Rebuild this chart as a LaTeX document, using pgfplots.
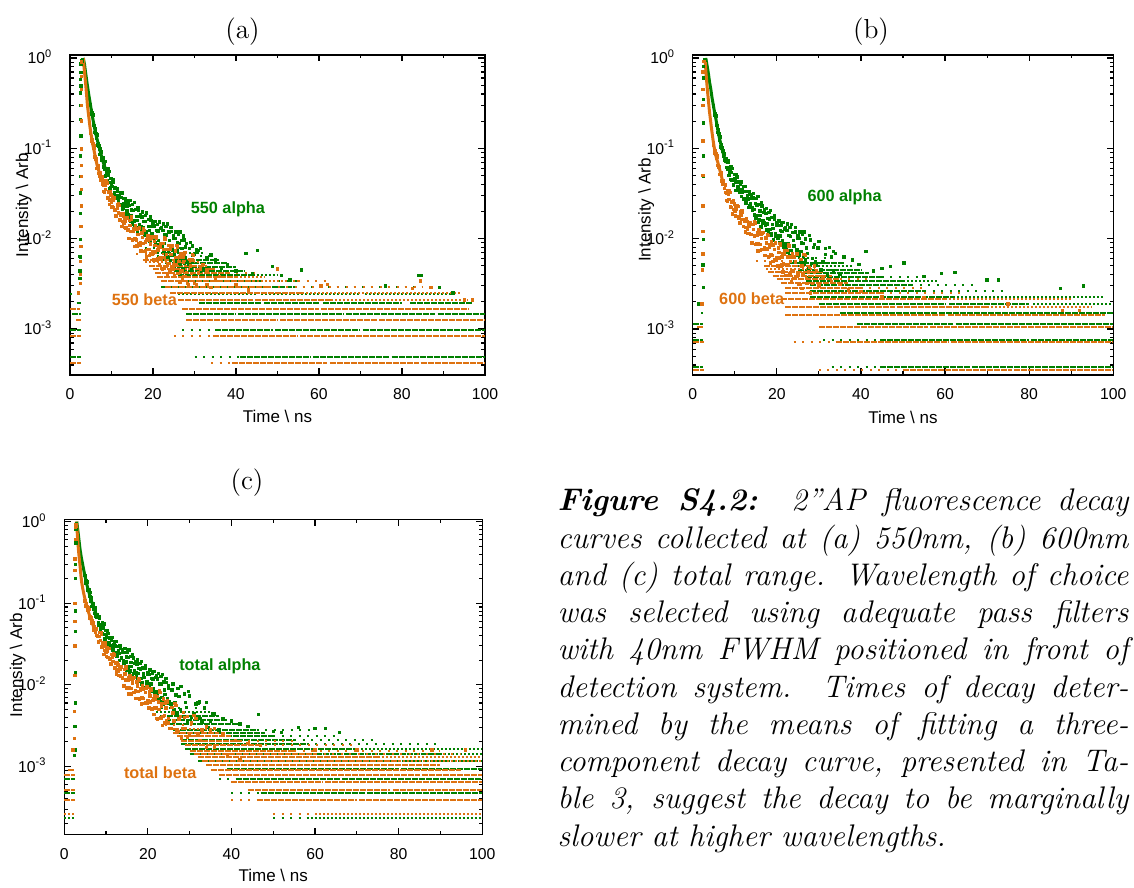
\documentclass[border=0pt]{standalone}
\usepackage{fontspec}
\usepackage{pgfplots}
\pgfplotsset{compat=1.18}
\newfontfamily\arial{Liberation Sans}
\definecolor{cg}{RGB}{0,128,0}
\definecolor{co}{RGB}{222,114,16}
\newcommand\tickfont{\arial\fontsize{6.3}{7}\selectfont}
\newcommand\labfont{\arial\fontsize{6.8}{8}\selectfont}
\newcommand\inlab{\arial\bfseries\fontsize{6.5}{7.5}\selectfont}
\pgfplotsset{
 decay/.style={scale only axis, anchor=south west, xmin=0, xmax=100,
   axis line style={line width=0.5pt}, tick style={line width=0.45pt, black}, tick align=inside,
   major tick length=2.6pt, minor tick length=1.4pt,
   xtick={0,20,40,60,80,100}, minor xtick={10,30,50,70,90},
   xticklabels={0,20,40,60,80,100},
   ytick={1e-3,1e-2,1e-1,1},
   yticklabels={10\textsuperscript{-3},10\textsuperscript{-2},10\textsuperscript{-1},10\textsuperscript{0}},
   xticklabel style={font=\tickfont, yshift=-2pt},
   yticklabel style={font=\tickfont, anchor=base east, yshift=-2.3pt, xshift=-3.5pt},
   xlabel={Time \textbackslash{} ns}, ylabel={Intensity \textbackslash{} Arb},
   label style={font=\labfont}, xlabel style={anchor=base}, ylabel style={anchor=base},
   unbounded coords=jump},
 mtAB/.style={minor ytick={4e-4,5e-4,6e-4,7e-4,8e-4,9e-4,2e-3,3e-3,4e-3,5e-3,6e-3,7e-3,8e-3,9e-3,0.02,0.03,0.04,0.05,0.06,0.07,0.08,0.09,0.2,0.3,0.4,0.5,0.6,0.7,0.8,0.9}},
 mtC/.style={minor ytick={2e-4,3e-4,4e-4,5e-4,6e-4,7e-4,8e-4,9e-4,2e-3,3e-3,4e-3,5e-3,6e-3,7e-3,8e-3,9e-3,0.02,0.03,0.04,0.05,0.06,0.07,0.08,0.09,0.2,0.3,0.4,0.5,0.6,0.7,0.8,0.9}},
 gd/.style={cg, line width=0.8pt, dash pattern=on 2.4pt off 0.4pt},
 gm/.style={cg, line width=0.8pt, dash pattern=on 0.8pt off 0.8pt},
 gs/.style={cg, line width=0.8pt, dash pattern=on 0.8pt off 2.6pt},
 od/.style={co, line width=0.8pt, dash pattern=on 2.4pt off 0.4pt},
 om/.style={co, line width=0.8pt, dash pattern=on 0.8pt off 0.8pt},
 os/.style={co, line width=0.8pt, dash pattern=on 0.8pt off 2.6pt},
 gp/.style={cg, only marks, mark=square*, mark size=0.48pt},
 op/.style={co, only marks, mark=square*, mark size=0.48pt},
 gl/.style={cg, line width=1.2pt, line join=round},
 ol/.style={co, line width=1.2pt, line join=round},
}
\begin{document}
\begin{tikzpicture}
\useasboundingbox (0,0) rectangle (453.6pt,355.2pt);

% ---------------- (a) ----------------
\begin{semilogyaxis}[decay, mtAB, at={(28pt,205.2pt)}, width=166pt, height=128pt, ymin=3.1e-4, ymax=1.08,
  xlabel style={at={([yshift=-19.2pt]axis description cs:0.5,0)}},
  ylabel style={at={([xshift=-16.8pt]axis description cs:0,0.531)}}]
\addplot[gd] coordinates {(41,4.9e-4)(58,4.9e-4)(0,nan)(58.6,4.9e-4)(77,4.9e-4)(0,nan)(77.5,4.9e-4)(100,4.9e-4)(0,nan)(0,4.9e-4)(2.6,4.9e-4)(0,nan)(35,9.8e-4)(49,9.8e-4)(0,nan)(49.5,9.8e-4)(70,9.8e-4)(0,nan)(70.6,9.8e-4)(100,9.8e-4)(0,nan)(0,9.8e-4)(2.6,9.8e-4)(0,nan)(28,1.47e-3)(40,1.47e-3)(0,nan)(40.5,1.47e-3)(66,1.47e-3)(0,nan)(66.5,1.47e-3)(88,1.47e-3)(0,nan)(88.6,1.47e-3)(100,1.47e-3)(0,nan)(0.5,1.47e-3)(2.6,1.47e-3)(0,nan)(31,1.96e-3)(46,1.96e-3)(0,nan)(46.8,1.96e-3)(60,1.96e-3)(0,nan)(61,1.96e-3)(80,1.96e-3)(0,nan)(82,1.96e-3)(97,1.96e-3)(0,nan)(1.6,1.96e-3)(2.6,1.96e-3)(0,nan)(22,2.94e-3)(38,2.94e-3)(0,nan)(38.6,2.94e-3)(54,2.94e-3)(0,nan)(26,3.43e-3)(46,3.43e-3)(0,nan)(26,3.92e-3)(44,3.92e-3)(0,nan)(25,4.41e-3)(42,4.41e-3)(0,nan)(24,4.9e-3)(40,4.9e-3)(0,nan)(23,5.39e-3)(38,5.39e-3)(0,nan)(22,5.88e-3)(36,5.88e-3)};
\addplot[gm] coordinates {(26,2.45e-3)(45,2.45e-3)(0,nan)(46,2.45e-3)(70,2.45e-3)(0,nan)(71,2.45e-3)(92,2.45e-3)(0,nan)(0,2.45e-3)(0.4,2.45e-3)(0,nan)(44,3.92e-3)(50,3.92e-3)(0,nan)(20,6.86e-3)(32,6.86e-3)};
\addplot[gs] coordinates {(30,4.9e-4)(41,4.9e-4)(0,nan)(27,9.8e-4)(35,9.8e-4)(0,nan)(54,2.94e-3)(85,2.94e-3)(0,nan)(46,3.43e-3)(56,3.43e-3)(0,nan)(21,6.37e-3)(34,6.37e-3)(0,nan)(18,7.84e-3)(28,7.84e-3)};
\addplot[gl] coordinates {(3.2,1.0)(3.5,0.85)(3.7,0.72)(3.9,0.62)(4.1,0.53)(4.3,0.46)(4.5,0.4)(4.8,0.33)(5.1,0.27)(5.4,0.225)(5.7,0.19)(6,0.16)(6.5,0.128)(7,0.104)(7.5,0.085)(8,0.07)(8.5,0.06)};
\addplot[gp] coordinates {(5,0.305)(5.25,0.238)(5.5,0.234)(5.75,0.179)(6,0.149)(6.25,0.147)(6.5,0.141)(6.75,0.108)(7,0.106)(7.25,0.0855)(7.5,0.091)(7.75,0.074)(8,0.0784)(8.25,0.0579)(8.5,0.072)(8.75,0.0532)(9,0.0437)(9.25,0.0509)(9.5,0.0558)(9.75,0.0365)(10,0.0412)(10.25,0.0304)(10.5,0.0418)(10.75,0.0321)(11,0.037)(11.25,0.028)(11.5,0.036)(11.75,0.0276)(12,0.0235)(12.25,0.0286)(12.5,0.0322)(12.75,0.0218)(13,0.0247)(13.25,0.0184)(13.5,0.0261)(13.75,0.0203)(14,0.0252)(14.25,0.0172)(14.5,0.0264)(14.75,0.0179)(15,0.0144)(15.25,0.0204)(15.5,0.0252)(15.75,0.014)(16,0.0177)(16.25,0.012)(16.5,0.0204)(16.75,0.0142)(17,0.0186)(17.25,0.0128)(17.5,0.0197)(17.75,0.0134)(18,0.0109)(18.25,0.0154)(18.5,0.0192)(18.75,0.0108)(19,0.0137)(19.25,0.0094)(19.5,0.016)(19.75,0.0113)(20,0.0146)(20.25,0.0101)(20.5,0.0156)(20.75,0.0106)(21,0.0086)(21.25,0.0122)(21.5,0.0153)(21.75,0.0086)(22,0.0134)(22.25,0.0081)(22.5,0.0146)(22.75,0.0089)(23,0.0067)(23.25,0.0108)(23.5,0.0146)(23.75,0.007)(24,0.0096)(24.25,0.0057)(24.5,0.012)(24.75,0.0075)(25,0.0109)(25.25,0.0066)(25.5,0.0119)(25.75,0.0073)(26,0.0054)(26.25,0.0088)(26.5,0.0119)(26.75,0.0057)(27,0.0078)(27.25,0.0046)(27.5,0.0097)(27.75,0.0061)(28,0.0088)(28.5,0.0052)(29,0.0091)(29.5,0.0055)(30,0.0068)(31,0.0074)(32,0.0046)(33,0.0061)
(5.125,0.261)(5.375,0.246)(5.625,0.184)(5.875,0.177)(6.125,0.163)(6.375,0.128)(6.625,0.109)(6.875,0.114)(7.125,0.097)(7.375,0.0985)(7.625,0.0761)(7.875,0.0742)(8.125,0.0621)(8.375,0.0688)(8.625,0.0493)(8.875,0.0567)(9.125,0.059)(9.375,0.0419)(9.625,0.0361)(9.875,0.0467)(10.125,0.0378)(10.375,0.0451)(10.625,0.031)(10.875,0.0364)(11.125,0.0296)(11.375,0.0338)(11.625,0.0251)(11.875,0.0299)(12.125,0.0325)(12.375,0.0239)(12.625,0.0212)(12.875,0.0279)(13.125,0.0228)(13.375,0.0278)(13.625,0.0194)(13.875,0.0231)(14.125,0.0182)(14.375,0.0234)(14.625,0.0154)(14.875,0.0207)(15.125,0.0239)(15.375,0.0157)(15.625,0.0133)(15.875,0.021)(16.125,0.016)(16.375,0.0221)(16.625,0.0131)(16.875,0.0175)(17.125,0.0135)(17.375,0.0174)(17.625,0.0115)(17.875,0.0156)(18.125,0.018)(18.375,0.0119)(18.625,0.0102)(18.875,0.0162)(19.125,0.0124)(19.375,0.0173)(19.625,0.0103)(19.875,0.0138)(20.125,0.0106)(20.375,0.0138)(20.625,0.009)(20.875,0.0123)(21.125,0.0143)(21.375,0.0095)(21.625,0.0081)(21.875,0.0129)(22.125,0.0087)(22.375,0.0124)(22.625,0.0072)(22.875,0.011)(23.125,0.0136)(23.375,0.0076)(23.625,0.0063)(23.875,0.0118)(24.125,0.0084)(24.375,0.0132)(24.625,0.0066)(24.875,0.01)(25.125,0.0071)(25.375,0.01)(25.625,0.0058)(25.875,0.009)(26.125,0.0111)(26.375,0.0062)(26.625,0.0052)(26.875,0.0096)(27.125,0.0068)(27.375,0.0107)(27.625,0.0053)(27.875,0.0081)(28.25,0.0056)(28.75,0.0078)(29.25,0.0045)(29.75,0.0067)(30.5,0.0075)(31.5,0.0044)
(2.9,0.93)(3.0,0.97)(2.65,0.86)(2.65,0.69)(2.6,0.58)(2.65,0.49)(2.6,0.41)(2.65,0.3)(2.6,0.21)(2.65,0.137)(2.6,0.082)(2.6,0.049)(2.6,0.032)(2.6,0.019)(2.55,0.0098)(2.55,0.0063)(2.45,0.0044)(2.3,0.0064)(2.4,0.0036)
(42.4,0.0069)(45.2,0.0074)(48.8,0.0049)(55.8,0.0045)(84,0.0039)(84.6,0.0039)(76,0.003)(89,0.0029)(92.3,0.0025)(38,0.0052)(35,0.0058)(34,0.0066)(30.5,0.0071)(36.5,0.0047)(40,0.0044)(44,0.0041)(51,0.0039)(53,0.0035)(31.5,0.0078)(29.5,0.0083)};
\addplot[od] coordinates {(39,4.2e-4)(62,4.2e-4)(0,nan)(62.6,4.2e-4)(84,4.2e-4)(0,nan)(84.5,4.2e-4)(100,4.2e-4)(0,nan)(0,4.2e-4)(2.7,4.2e-4)(0,nan)(34.5,8.4e-4)(55,8.4e-4)(0,nan)(55.5,8.4e-4)(100,8.4e-4)(0,nan)(0,8.4e-4)(2.7,8.4e-4)(0,nan)(28,1.26e-3)(50,1.26e-3)(0,nan)(50.6,1.26e-3)(74,1.26e-3)(0,nan)(74.5,1.26e-3)(100,1.26e-3)(0,nan)(1.5,1.26e-3)(2.7,1.26e-3)(0,nan)(27,1.68e-3)(60,1.68e-3)(0,nan)(60.5,1.68e-3)(96,1.68e-3)(0,nan)(0,1.68e-3)(2.4,1.68e-3)(0,nan)(26,2.1e-3)(44,2.1e-3)(0,nan)(44.5,2.1e-3)(63,2.1e-3)(0,nan)(24,2.52e-3)(56,2.52e-3)(0,nan)(23,2.94e-3)(48,2.94e-3)(0,nan)(22,3.36e-3)(44,3.36e-3)(0,nan)(21,3.78e-3)(40,3.78e-3)(0,nan)(20.5,4.2e-3)(38,4.2e-3)(0,nan)(20,4.62e-3)(35,4.62e-3)(0,nan)(19,5.04e-3)(33,5.04e-3)(0,nan)(17.5,5.88e-3)(30,5.88e-3)};
\addplot[om] coordinates {(63,2.1e-3)(96,2.1e-3)(0,nan)(56,2.52e-3)(94,2.52e-3)(0,nan)(44,3.36e-3)(55,3.36e-3)(0,nan)(40,3.78e-3)(47,3.78e-3)(0,nan)(18,5.46e-3)(31,5.46e-3)};
\addplot[os] coordinates {(34,4.2e-4)(39,4.2e-4)(0,nan)(25,8.4e-4)(34.5,8.4e-4)(0,nan)(48,2.94e-3)(85,2.94e-3)(0,nan)(55,3.36e-3)(62,3.36e-3)(0,nan)(38,4.2e-3)(46,4.2e-3)(0,nan)(16,6.72e-3)(26,6.72e-3)};
\addplot[ol] coordinates {(3.2,1.0)(3.35,0.82)(3.5,0.7)(3.65,0.59)(3.8,0.5)(4,0.39)(4.2,0.3)(4.4,0.25)(4.6,0.21)(4.8,0.175)(5,0.15)(5.5,0.11)(6,0.085)(6.5,0.066)(7,0.055)(7.5,0.047)(8,0.041)};
\addplot[op] coordinates {(5,0.146)(5.25,0.119)(5.5,0.113)(5.75,0.107)(6,0.08)(6.25,0.0765)(6.5,0.06)(6.75,0.064)(7,0.0528)(7.25,0.0536)(7.5,0.0447)(7.75,0.048)(8,0.039)(8.25,0.0328)(8.5,0.0392)(8.75,0.0434)(9,0.0287)(9.25,0.0324)(9.5,0.024)(9.75,0.0331)(10,0.0251)(10.25,0.0291)(10.5,0.022)(10.75,0.0282)(11,0.0209)(11.25,0.0178)(11.5,0.0215)(11.75,0.0241)(12,0.0161)(12.25,0.0183)(12.5,0.0137)(12.75,0.019)(13,0.0147)(13.25,0.017)(13.5,0.0131)(13.75,0.0169)(14,0.0125)(14.25,0.01)(14.5,0.0141)(14.75,0.0174)(15,0.0096)(15.25,0.0122)(15.5,0.0082)(15.75,0.014)(16,0.0097)(16.25,0.0126)(16.5,0.0087)(16.75,0.0132)(17,0.009)(17.25,0.0073)(17.5,0.0103)(17.75,0.0129)(18,0.0072)(18.25,0.0092)(18.5,0.0063)(18.75,0.0107)(19,0.0076)(19.25,0.0098)(19.5,0.0068)(19.75,0.0104)(20,0.0072)(20.25,0.0059)(20.5,0.0084)(20.75,0.0104)(21,0.0058)(21.25,0.0075)(21.5,0.0051)(21.75,0.0088)(22,0.0062)(22.25,0.0046)(22.5,0.0076)(22.75,0.0102)(23,0.0049)(23.25,0.0067)(23.5,0.004)(23.75,0.0084)(24,0.0053)(24.25,0.0077)(24.5,0.0047)(24.75,0.0084)(25,0.0051)(25.25,0.0038)(25.5,0.0062)(25.75,0.0084)(26,0.0041)(26.25,0.0056)(26.5,0.0033)(26.75,0.0069)(27,0.0044)(27.25,0.0063)(27.5,0.0038)(27.75,0.007)(28,0.0042)(28.5,0.0031)(29,0.005)(29.5,0.0067)(30,0.0032)(31,0.0042)(32,0.0052)(33,0.0031)
(5.125,0.125)(5.375,0.125)(5.625,0.101)(5.875,0.1)(6.125,0.0752)(6.375,0.0712)(6.625,0.0611)(6.875,0.061)(7.125,0.0488)(7.375,0.0505)(7.625,0.0491)(7.875,0.0404)(8.125,0.0332)(8.375,0.0433)(8.625,0.0349)(8.875,0.0415)(9.125,0.0283)(9.375,0.0332)(9.625,0.0269)(9.875,0.0306)(10.125,0.0225)(10.375,0.0266)(10.625,0.0284)(10.875,0.0205)(11.125,0.0179)(11.375,0.0236)(11.625,0.0192)(11.875,0.0232)(12.125,0.0159)(12.375,0.0188)(12.625,0.0154)(12.875,0.0177)(13.125,0.0132)(13.375,0.0156)(13.625,0.017)(13.875,0.0124)(14.125,0.01)(14.375,0.0159)(14.625,0.012)(14.875,0.0165)(15.125,0.0097)(15.375,0.0129)(15.625,0.0099)(15.875,0.0128)(16.125,0.0083)(16.375,0.0112)(16.625,0.0129)(16.875,0.0085)(17.125,0.0073)(17.375,0.0116)(17.625,0.0088)(17.875,0.0123)(18.125,0.0073)(18.375,0.0097)(18.625,0.0076)(18.875,0.0097)(19.125,0.0065)(19.375,0.0087)(19.625,0.0102)(19.875,0.0067)(20.125,0.0058)(20.375,0.0093)(20.625,0.0071)(20.875,0.01)(21.125,0.006)(21.375,0.0081)(21.625,0.0062)(21.875,0.0081)(22.125,0.0047)(22.375,0.0088)(22.625,0.0062)(22.875,0.0099)(23.125,0.0049)(23.375,0.0076)(23.625,0.0053)(23.875,0.0076)(24.125,0.0044)(24.375,0.0067)(24.625,0.0083)(24.875,0.0046)(25.125,0.0039)(25.375,0.0073)(25.625,0.0051)(25.875,0.0081)(26.125,0.0041)(26.375,0.0063)(26.625,0.0044)(26.875,0.0062)(27.125,0.0036)(27.375,0.0055)(27.625,0.0067)(27.875,0.0038)(28.25,0.0032)(28.75,0.0059)(29.25,0.0041)(29.75,0.0065)(30.5,0.0031)(31.5,0.0046)
(2.8,0.9)(2.8,0.62)(2.8,0.45)(2.75,0.3)(2.75,0.2)(2.75,0.098)(2.7,0.065)(2.7,0.049)(2.7,0.035)(2.7,0.023)(2.65,0.0137)(2.65,0.0082)(2.6,0.0056)(2.55,0.004)(2.5,0.0032)(2.0,0.0025)
(50,0.0046)(84.5,0.0034)(82.5,0.0028)(87,0.0029)(36,0.0038)(60.5,0.003)(62,0.0031)(95,0.0021)(97,0.0021)(31,0.0041)(33,0.0045)(35,0.0035)(29.5,0.0058)(34,0.0029)(40,0.0031)(43,0.0027)};
\node[font=\inlab, text=cg, anchor=west] at (axis cs:27,0.0211) {550 alpha};
\node[font=\inlab, text=co, anchor=west] at (axis cs:7.95,2.09e-3) {550 beta};
\end{semilogyaxis}

% ---------------- (b) ----------------
\begin{semilogyaxis}[decay, mtAB, at={(277.1pt,205.2pt)}, width=168.2pt, height=128pt, ymin=3.1e-4, ymax=1.08,
  xlabel style={at={([yshift=-19.3pt]axis description cs:0.5,0)}},
  ylabel style={at={([xshift=-16.8pt]axis description cs:0,0.516)}}]
\addplot[gd] coordinates {(44.5,3.8e-4)(66,3.8e-4)(0,nan)(66.5,3.8e-4)(100,3.8e-4)(0,nan)(0,3.8e-4)(2.5,3.8e-4)(0,nan)(44.5,7.6e-4)(80,7.6e-4)(0,nan)(80.5,7.6e-4)(100,7.6e-4)(0,nan)(0,7.6e-4)(2.5,7.6e-4)(0,nan)(39,1.14e-3)(62,1.14e-3)(0,nan)(62.5,1.14e-3)(100,1.14e-3)(0,nan)(0,1.14e-3)(2.5,1.14e-3)(0,nan)(35,1.52e-3)(58,1.52e-3)(0,nan)(58.6,1.52e-3)(100,1.52e-3)(0,nan)(2,1.52e-3)(2.5,1.52e-3)(0,nan)(30,1.9e-3)(60,1.9e-3)(0,nan)(61,1.9e-3)(80,1.9e-3)(0,nan)(28,2.28e-3)(62,2.28e-3)(0,nan)(28,2.66e-3)(55,2.66e-3)(0,nan)(28,3.04e-3)(52,3.04e-3)(0,nan)(27,3.42e-3)(50,3.42e-3)(0,nan)(27,3.8e-3)(45,3.8e-3)(0,nan)(26,4.18e-3)(42,4.18e-3)(0,nan)(25,4.56e-3)(40,4.56e-3)(0,nan)(23,5.32e-3)(36,5.32e-3)};
\addplot[gm] coordinates {(81,1.9e-3)(100,1.9e-3)(0,nan)(62,2.28e-3)(98,2.28e-3)(0,nan)(24,4.94e-3)(38,4.94e-3)(0,nan)(50,3.42e-3)(58,3.42e-3)};
\addplot[gs] coordinates {(33,3.8e-4)(44.5,3.8e-4)(0,nan)(31,7.6e-4)(44.5,7.6e-4)(0,nan)(55,2.66e-3)(75,2.66e-3)(0,nan)(52,3.04e-3)(68,3.04e-3)(0,nan)(45,3.8e-3)(55,3.8e-3)(0,nan)(21,6.08e-3)(32,6.08e-3)};
\addplot[gl] coordinates {(3.1,1.0)(3.3,0.88)(3.5,0.78)(3.75,0.66)(4,0.54)(4.3,0.45)(4.6,0.36)(4.9,0.3)(5.2,0.25)(5.6,0.2)(6,0.155)(6.4,0.126)(7,0.097)(7.5,0.08)(8,0.069)};
\addplot[gp] coordinates {(5,0.294)(5.25,0.233)(5.5,0.229)(5.75,0.179)(6,0.149)(6.25,0.144)(6.5,0.134)(6.75,0.103)(7,0.101)(7.25,0.081)(7.5,0.0867)(7.75,0.072)(8,0.0773)(8.25,0.0579)(8.5,0.0732)(8.75,0.0542)(9,0.0454)(9.25,0.0541)(9.5,0.0595)(9.75,0.0396)(10,0.0458)(10.25,0.0344)(10.5,0.0481)(10.75,0.0372)(11,0.0431)(11.25,0.0329)(11.5,0.0426)(11.75,0.0323)(12,0.0273)(12.25,0.0334)(12.5,0.0378)(12.75,0.0258)(13,0.0297)(13.25,0.0223)(13.5,0.0313)(13.75,0.0244)(14,0.0305)(14.25,0.0207)(14.5,0.0314)(14.75,0.0212)(15,0.0169)(15.25,0.0237)(15.5,0.0291)(15.75,0.0161)(16,0.0202)(16.25,0.0135)(16.5,0.0231)(16.75,0.016)(17,0.0208)(17.25,0.0141)(17.5,0.0215)(17.75,0.0145)(18,0.0117)(18.25,0.0165)(18.5,0.0204)(18.75,0.0114)(19,0.0144)(19.25,0.0097)(19.5,0.0165)(19.75,0.0115)(20,0.015)(20.25,0.0102)(20.5,0.0157)(20.75,0.0107)(21,0.0086)(21.25,0.0121)(21.5,0.0151)(21.75,0.0085)(22,0.0133)(22.25,0.0081)(22.5,0.0145)(22.75,0.0088)(23,0.0065)(23.25,0.0106)(23.5,0.0143)(23.75,0.0069)(24,0.0095)(24.25,0.0056)(24.5,0.0118)(24.75,0.0075)(25,0.0108)(25.25,0.0066)(25.5,0.0119)(25.75,0.0072)(26,0.0054)(26.25,0.0088)(26.5,0.0119)(26.75,0.0058)(27,0.0079)(27.5,0.0047)(28,0.0097)(28.5,0.006)(29,0.0086)(29.5,0.0051)(30,0.0093)(31,0.0055)(32,0.0039)(33,0.0063)(34,0.0069)(35,0.004)
(5.125,0.254)(5.375,0.241)(5.625,0.181)(5.875,0.177)(6.125,0.162)(6.375,0.124)(6.625,0.104)(6.875,0.109)(7.125,0.0921)(7.375,0.0935)(7.625,0.0733)(7.875,0.0727)(8.125,0.0616)(8.375,0.0693)(8.625,0.0502)(8.875,0.0583)(9.125,0.062)(9.375,0.0446)(9.625,0.0388)(9.875,0.0513)(10.125,0.0424)(10.375,0.0515)(10.625,0.0358)(10.875,0.0423)(11.125,0.0347)(11.375,0.0398)(11.625,0.0295)(11.875,0.0349)(12.125,0.0378)(12.375,0.0279)(12.625,0.0249)(12.875,0.0333)(13.125,0.0275)(13.375,0.0334)(13.625,0.0234)(13.875,0.0279)(14.125,0.022)(14.375,0.0281)(14.625,0.0183)(14.875,0.0244)(15.125,0.0279)(15.375,0.0181)(15.625,0.0153)(15.875,0.024)(16.125,0.0181)(16.375,0.025)(16.625,0.0148)(16.875,0.0196)(17.125,0.015)(17.375,0.0191)(17.625,0.0125)(17.875,0.0168)(18.125,0.0195)(18.375,0.0127)(18.625,0.0108)(18.875,0.0171)(19.125,0.0129)(19.375,0.018)(19.625,0.0106)(19.875,0.0141)(20.125,0.0108)(20.375,0.0139)(20.625,0.0091)(20.875,0.0123)(21.125,0.0142)(21.375,0.0094)(21.625,0.008)(21.875,0.0128)(22.125,0.0087)(22.375,0.0123)(22.625,0.0071)(22.875,0.0109)(23.125,0.0133)(23.375,0.0074)(23.625,0.0063)(23.875,0.0117)(24.125,0.0083)(24.375,0.0132)(24.625,0.0065)(24.875,0.01)(25.125,0.007)(25.375,0.01)(25.625,0.0058)(25.875,0.009)(26.125,0.0111)(26.375,0.0062)(26.625,0.0052)(26.875,0.0099)(27.25,0.0069)(27.75,0.0108)(28.25,0.0053)(28.75,0.008)(29.25,0.0055)(29.75,0.0079)(30.5,0.0045)(31.5,0.0067)(32.5,0.008)(33.5,0.0044)
(2.9,0.95)(2.6,0.8)(2.6,0.6)(2.6,0.35)(2.6,0.19)(2.55,0.082)(2.55,0.049)(2.5,0.023)(2.5,0.0098)(2.5,0.0029)(2.3,0.0019)(1.5,0.0019)(2.4,0.0051)
(41.2,0.0072)(50.2,0.0054)(62.4,0.0042)(59.2,0.0041)(72.7,0.0035)(70,0.0035)(92.9,0.003)(87.5,0.0028)(38,0.0058)(36,0.0063)(33.5,0.0072)(45,0.0047)(47,0.0049)(55,0.0038)(39.5,0.0052)(43,0.0044)(31.5,0.0078)};
\addplot[od] coordinates {(50,3.55e-4)(76,3.55e-4)(0,nan)(76.5,3.55e-4)(100,3.55e-4)(0,nan)(0,3.55e-4)(2.6,3.55e-4)(0,nan)(34,7.1e-4)(61,7.1e-4)(0,nan)(61.5,7.1e-4)(100,7.1e-4)(0,nan)(0,7.1e-4)(2.6,7.1e-4)(0,nan)(30,1.065e-3)(56,1.065e-3)(0,nan)(56.5,1.065e-3)(100,1.065e-3)(0,nan)(1,1.065e-3)(2.6,1.065e-3)(0,nan)(22,1.42e-3)(60,1.42e-3)(0,nan)(60.6,1.42e-3)(98,1.42e-3)(0,nan)(22,1.775e-3)(48,1.775e-3)(0,nan)(48.5,1.775e-3)(70,1.775e-3)(0,nan)(21,2.13e-3)(60,2.13e-3)(0,nan)(22,2.485e-3)(45,2.485e-3)(0,nan)(22,2.84e-3)(40,2.84e-3)(0,nan)(21,3.195e-3)(37,3.195e-3)(0,nan)(20,3.55e-3)(35,3.55e-3)(0,nan)(19,3.905e-3)(33,3.905e-3)(0,nan)(18,4.26e-3)(31,4.26e-3)(0,nan)(17,4.97e-3)(28,4.97e-3)};
\addplot[om] coordinates {(70,1.775e-3)(95,1.775e-3)(0,nan)(60,2.13e-3)(90,2.13e-3)(0,nan)(17.5,4.615e-3)(29,4.615e-3)};
\addplot[os] coordinates {(30,3.55e-4)(50,3.55e-4)(0,nan)(24,7.1e-4)(34,7.1e-4)(0,nan)(45,2.485e-3)(65,2.485e-3)(0,nan)(40,2.84e-3)(55,2.84e-3)(0,nan)(35,3.55e-3)(42,3.55e-3)(0,nan)(15,5.68e-3)(25,5.68e-3)};
\addplot[ol] coordinates {(2.9,1.0)(3.05,0.8)(3.2,0.64)(3.4,0.49)(3.6,0.39)(3.8,0.31)(4,0.25)(4.2,0.21)(4.4,0.175)(4.6,0.148)(4.8,0.126)(5.1,0.103)(5.4,0.087)(5.7,0.076)(6,0.069)(6.5,0.056)(7,0.0455)};
\addplot[op] coordinates {(5,0.107)(5.25,0.0884)(5.5,0.0865)(5.75,0.0836)(6,0.0649)(6.25,0.0632)(6.5,0.051)(6.75,0.054)(7,0.0437)(7.25,0.0436)(7.5,0.0361)(7.75,0.0387)(8,0.0314)(8.25,0.026)(8.5,0.0307)(8.75,0.0337)(9,0.0224)(9.25,0.0253)(9.5,0.0188)(9.75,0.0261)(10,0.02)(10.25,0.0231)(10.5,0.0176)(10.75,0.0228)(11,0.0174)(11.25,0.0149)(11.5,0.018)(11.75,0.0203)(12,0.0137)(12.25,0.0157)(12.5,0.0118)(12.75,0.0165)(13,0.0127)(13.25,0.0149)(13.5,0.0115)(13.75,0.015)(14,0.0111)(14.25,0.009)(14.5,0.0127)(14.75,0.0155)(15,0.0086)(15.25,0.0109)(15.5,0.0073)(15.75,0.0125)(16,0.0086)(16.25,0.0113)(16.5,0.0076)(16.75,0.0117)(17,0.008)(17.25,0.0065)(17.5,0.009)(17.75,0.0112)(18,0.0063)(18.25,0.008)(18.5,0.0054)(18.75,0.0093)(19,0.0065)(19.25,0.0085)(19.5,0.0058)(19.75,0.009)(20,0.0062)(20.25,0.0049)(20.5,0.007)(20.75,0.0088)(21,0.005)(21.25,0.0063)(21.5,0.0043)(21.75,0.0074)(22,0.0052)(22.25,0.0039)(22.5,0.0063)(22.75,0.0085)(23,0.0041)(23.25,0.0056)(23.5,0.0033)(23.75,0.0069)(24,0.0044)(24.25,0.0063)(24.5,0.0038)(24.75,0.0068)(25,0.0041)(25.5,0.0031)(26,0.005)(26.5,0.0067)(27,0.0032)(27.5,0.0043)(28,0.0025)(29,0.005)(30,0.003)
(5.125,0.0918)(5.375,0.0938)(5.625,0.0783)(5.875,0.0796)(6.125,0.0615)(6.375,0.0595)(6.625,0.0516)(6.875,0.0509)(7.125,0.04)(7.375,0.0409)(7.625,0.0396)(7.875,0.0325)(8.125,0.0266)(8.375,0.0342)(8.625,0.0273)(8.875,0.0323)(9.125,0.0222)(9.375,0.0259)(9.625,0.0212)(9.875,0.0242)(10.125,0.0179)(10.375,0.0212)(10.625,0.0229)(10.875,0.0167)(11.125,0.0149)(11.375,0.0197)(11.625,0.0162)(11.875,0.0196)(12.125,0.0136)(12.375,0.0162)(12.625,0.0133)(12.875,0.0154)(13.125,0.0115)(13.375,0.0138)(13.625,0.015)(13.875,0.0111)(14.125,0.009)(14.375,0.0143)(14.625,0.0107)(14.875,0.0149)(15.125,0.0088)(15.375,0.0116)(15.625,0.0089)(15.875,0.0114)(16.125,0.0074)(16.375,0.01)(16.625,0.0115)(16.875,0.0076)(17.125,0.0065)(17.375,0.0102)(17.625,0.0077)(17.875,0.0108)(18.125,0.0064)(18.375,0.0085)(18.625,0.0066)(18.875,0.0085)(19.125,0.0056)(19.375,0.0076)(19.625,0.0088)(19.875,0.0058)(20.125,0.005)(20.375,0.0079)(20.625,0.0061)(20.875,0.0085)(21.125,0.0051)(21.375,0.0068)(21.625,0.0053)(21.875,0.0068)(22.125,0.0039)(22.375,0.0074)(22.625,0.0052)(22.875,0.0083)(23.125,0.0041)(23.375,0.0063)(23.625,0.0044)(23.875,0.0062)(24.125,0.0036)(24.375,0.0055)(24.625,0.0067)(24.875,0.0038)(25.25,0.0031)(25.75,0.0059)(26.25,0.0041)(26.75,0.0065)(27.25,0.0032)(27.75,0.0048)(28.5,0.0032)(29.5,0.0044)
(2.7,0.92)(2.45,0.7)(2.45,0.45)(2.45,0.3)(2.45,0.12)(2.4,0.05)(2.4,0.023)(2.4,0.012)(2.45,0.0068)(2.35,0.0045)(2.2,0.0019)
(40,0.0026)(45,0.0023)(55,0.0022)(75,0.0019)(88,0.0016)(92,0.0016)(33,0.0033)(35,0.0031)(31,0.0038)(29,0.0042)(27,0.0036)(26,0.0028)(37,0.0027)};
\node[font=\inlab, text=cg, anchor=west] at (axis cs:25.2,0.0287) {600 alpha};
\node[font=\inlab, text=co, anchor=west] at (axis cs:4.2,2.19e-3) {600 beta};
\end{semilogyaxis}

% ---------------- (c) ----------------
\begin{semilogyaxis}[decay, mtC, at={(25.7pt,21.5pt)}, width=167.2pt, height=126pt, ymin=1.48e-4, ymax=1.07,
  xlabel style={at={([yshift=-19pt]axis description cs:0.5,0)}},
  ylabel style={at={([xshift=-16.8pt]axis description cs:0,0.537)}}]
\addplot[gd] coordinates {(47,4.68e-4)(72,4.68e-4)(0,nan)(72.5,4.68e-4)(100,4.68e-4)(0,nan)(0,4.68e-4)(2.6,4.68e-4)(0,nan)(41,7.02e-4)(66,7.02e-4)(0,nan)(66.5,7.02e-4)(100,7.02e-4)(0,nan)(0,7.02e-4)(2.6,7.02e-4)(0,nan)(39,9.36e-4)(80,9.36e-4)(0,nan)(80.5,9.36e-4)(100,9.36e-4)(0,nan)(32,1.17e-3)(60,1.17e-3)(0,nan)(60.6,1.17e-3)(100,1.17e-3)(0,nan)(30,1.404e-3)(90,1.404e-3)(0,nan)(29,1.638e-3)(70,1.638e-3)(0,nan)(28,1.872e-3)(58,1.872e-3)(0,nan)(28,2.106e-3)(55,2.106e-3)(0,nan)(27,2.34e-3)(50,2.34e-3)(0,nan)(27,2.574e-3)(48,2.574e-3)(0,nan)(26,2.808e-3)(46,2.808e-3)(0,nan)(25,3.276e-3)(42,3.276e-3)(0,nan)(24,3.744e-3)(39,3.744e-3)(0,nan)(23,4.212e-3)(37,4.212e-3)};
\addplot[gm] coordinates {(58,2.34e-4)(100,2.34e-4)(0,nan)(0,2.34e-4)(2.6,2.34e-4)(0,nan)(90,1.404e-3)(100,1.404e-3)(0,nan)(70,1.638e-3)(100,1.638e-3)(0,nan)(22,4.68e-3)(35,4.68e-3)};
\addplot[gs] coordinates {(50,2.34e-4)(58,2.34e-4)(0,nan)(40,4.68e-4)(47,4.68e-4)(0,nan)(37,7.02e-4)(41,7.02e-4)(0,nan)(58,1.872e-3)(90,1.872e-3)(0,nan)(55,2.106e-3)(75,2.106e-3)(0,nan)(50,2.34e-3)(66,2.34e-3)(0,nan)(46,2.808e-3)(60,2.808e-3)(0,nan)(21,5.15e-3)(32,5.15e-3)};
\addplot[gl] coordinates {(3,1.0)(3.2,0.82)(3.4,0.68)(3.6,0.55)(3.8,0.45)(4.1,0.36)(4.4,0.3)(4.7,0.25)(5,0.21)(5.4,0.17)(5.8,0.142)(6.2,0.12)(6.6,0.103)(7,0.09)(7.4,0.079)(7.8,0.069)};
\addplot[gp] coordinates {(5,0.22)(5.25,0.177)(5.5,0.182)(5.75,0.146)(6,0.123)(6.25,0.122)(6.5,0.118)(6.75,0.092)(7,0.092)(7.25,0.0755)(7.5,0.0824)(7.75,0.0672)(8,0.0728)(8.25,0.0543)(8.5,0.0684)(8.75,0.0513)(9,0.042)(9.25,0.0498)(9.5,0.0558)(9.75,0.0365)(10,0.0412)(10.25,0.0308)(10.5,0.0429)(10.75,0.033)(11,0.0381)(11.25,0.0291)(11.5,0.0378)(11.75,0.0288)(12,0.0245)(12.25,0.0299)(12.5,0.0339)(12.75,0.023)(13,0.0264)(13.25,0.0198)(13.5,0.028)(13.75,0.0218)(14,0.0272)(14.25,0.0185)(14.5,0.0281)(14.75,0.019)(15,0.0153)(15.25,0.0215)(15.5,0.0266)(15.75,0.0148)(16,0.0187)(16.25,0.0126)(16.5,0.0214)(16.75,0.0149)(17,0.0193)(17.25,0.0132)(17.5,0.0202)(17.75,0.0137)(18,0.011)(18.25,0.0155)(18.5,0.0193)(18.75,0.0107)(19,0.0136)(19.25,0.0092)(19.5,0.0158)(19.75,0.011)(20,0.0143)(20.25,0.0098)(20.5,0.0152)(20.75,0.0103)(21,0.0084)(21.25,0.0118)(21.5,0.0146)(21.75,0.0082)(22,0.0128)(22.25,0.0077)(22.5,0.0139)(22.75,0.0084)(23,0.0062)(23.25,0.0101)(23.5,0.0135)(23.75,0.0065)(24,0.0087)(24.25,0.0052)(24.5,0.0107)(24.75,0.0068)(25,0.0097)(25.5,0.0058)(26,0.0102)(26.5,0.0061)(27,0.0045)(27.5,0.0072)(28,0.0096)(28.5,0.0046)(29,0.0061)(29.5,0.0036)(30,0.0073)(31,0.0044)(32,0.006)(33,0.0035)(34,0.0061)(35,0.0036)(36,0.0044)(37,0.0028)
(5.125,0.192)(5.375,0.187)(5.625,0.145)(5.875,0.145)(6.125,0.135)(6.375,0.106)(6.625,0.0918)(6.875,0.0987)(7.125,0.0848)(7.375,0.088)(7.625,0.0691)(7.875,0.0682)(8.125,0.058)(8.375,0.0649)(8.625,0.0472)(8.875,0.0546)(9.125,0.0572)(9.375,0.0414)(9.625,0.0361)(9.875,0.0467)(10.125,0.038)(10.375,0.046)(10.625,0.0319)(10.875,0.0375)(11.125,0.0306)(11.375,0.0353)(11.625,0.0263)(11.875,0.0312)(12.125,0.0339)(12.375,0.0249)(12.625,0.0222)(12.875,0.0296)(13.125,0.0244)(13.375,0.0298)(13.625,0.0209)(13.875,0.0248)(14.125,0.0196)(14.375,0.0251)(14.625,0.0164)(14.875,0.022)(15.125,0.0253)(15.375,0.0165)(15.625,0.014)(15.875,0.0222)(16.125,0.0168)(16.375,0.0232)(16.625,0.0137)(16.875,0.0183)(17.125,0.014)(17.375,0.018)(17.625,0.0118)(17.875,0.0159)(18.125,0.0183)(18.375,0.012)(18.625,0.0102)(18.875,0.0161)(19.125,0.0123)(19.375,0.017)(19.625,0.0101)(19.875,0.0134)(20.125,0.0104)(20.375,0.0135)(20.625,0.0088)(20.875,0.012)(21.125,0.0138)(21.375,0.009)(21.625,0.0077)(21.875,0.0123)(22.125,0.0083)(22.375,0.0118)(22.625,0.0068)(22.875,0.0103)(23.125,0.0126)(23.375,0.007)(23.625,0.0058)(23.875,0.0109)(24.125,0.0076)(24.375,0.012)(24.625,0.0059)(24.875,0.0091)(25.25,0.0062)(25.75,0.0087)(26.25,0.005)(26.75,0.0075)(27.25,0.0091)(27.75,0.005)(28.25,0.0041)(28.75,0.0077)(29.25,0.0053)(29.75,0.0083)(30.5,0.004)(31.5,0.0058)(32.5,0.0039)(33.5,0.0052)(34.5,0.003)(35.5,0.0044)
(2.95,0.95)(2.8,0.8)(2.8,0.55)(2.75,0.3)(2.75,0.2)(2.75,0.08)(2.7,0.045)(2.7,0.014)(2.65,0.006)(2.6,0.0031)(2.6,0.0016)(2.5,0.00137)
(46.5,0.0043)(56,0.003)(60,0.0029)(62.5,0.0029)(65.8,0.0026)(27.8,0.0095)(32.4,0.0062)(38,0.0038)(40,0.0036)(42,0.0033)(44,0.0031)(50,0.0027)(52,0.0026)};
\addplot[od] coordinates {(46,3.9e-4)(70,3.9e-4)(0,nan)(70.5,3.9e-4)(100,3.9e-4)(0,nan)(0,3.9e-4)(2.6,3.9e-4)(0,nan)(44,5.2e-4)(78,5.2e-4)(0,nan)(78.6,5.2e-4)(100,5.2e-4)(0,nan)(0,5.2e-4)(2.6,5.2e-4)(0,nan)(40,6.5e-4)(62,6.5e-4)(0,nan)(62.5,6.5e-4)(100,6.5e-4)(0,nan)(37,7.8e-4)(85,7.8e-4)(0,nan)(85.5,7.8e-4)(100,7.8e-4)(0,nan)(0,7.8e-4)(2.6,7.8e-4)(0,nan)(35,9.1e-4)(95,9.1e-4)(0,nan)(1,9.1e-4)(2.6,9.1e-4)(0,nan)(34,1.04e-3)(90,1.04e-3)(0,nan)(33,1.17e-3)(80,1.17e-3)(0,nan)(32,1.3e-3)(75,1.3e-3)(0,nan)(31,1.43e-3)(60,1.43e-3)(0,nan)(30,1.56e-3)(55,1.56e-3)(0,nan)(29,1.82e-3)(46,1.82e-3)(0,nan)(28,2.08e-3)(42,2.08e-3)(0,nan)(27,2.34e-3)(40,2.34e-3)(0,nan)(26,2.6e-3)(37,2.6e-3)};
\addplot[om] coordinates {(60,2.6e-4)(100,2.6e-4)(0,nan)(0,2.6e-4)(2.6,2.6e-4)(0,nan)(75,1.3e-3)(100,1.3e-3)(0,nan)(80,1.17e-3)(100,1.17e-3)(0,nan)(25,2.86e-3)(35,2.86e-3)};
\addplot[os] coordinates {(50,2.6e-4)(60,2.6e-4)(0,nan)(40,3.9e-4)(46,3.9e-4)(0,nan)(60,1.43e-3)(95,1.43e-3)(0,nan)(55,1.56e-3)(90,1.56e-3)(0,nan)(46,1.82e-3)(70,1.82e-3)(0,nan)(42,2.08e-3)(55,2.08e-3)(0,nan)(24,3.25e-3)(32,3.25e-3)};
\addplot[ol] coordinates {(2.9,1.0)(3.05,0.8)(3.2,0.62)(3.4,0.45)(3.6,0.35)(3.8,0.28)(4,0.215)(4.2,0.176)(4.5,0.145)(4.8,0.122)(5.1,0.105)(5.4,0.091)(5.8,0.078)(6.2,0.067)(6.6,0.059)(7,0.052)};
\addplot[op] coordinates {(5,0.107)(5.25,0.091)(5.5,0.0906)(5.75,0.0891)(6,0.0677)(6.25,0.0689)(6.5,0.0573)(6.75,0.0605)(7,0.0499)(7.25,0.0515)(7.5,0.0442)(7.75,0.048)(8,0.0394)(8.25,0.033)(8.5,0.0394)(8.75,0.0436)(9,0.029)(9.25,0.0324)(9.5,0.0236)(9.75,0.0325)(10,0.0248)(10.25,0.0286)(10.5,0.0216)(10.75,0.0278)(11,0.0211)(11.25,0.0178)(11.5,0.0215)(11.75,0.0241)(12,0.0162)(12.25,0.0183)(12.5,0.0136)(12.75,0.0189)(13,0.0146)(13.25,0.0168)(13.5,0.0128)(13.75,0.0167)(14,0.0122)(14.25,0.0097)(14.5,0.0136)(14.75,0.0167)(15,0.0092)(15.25,0.0115)(15.5,0.0077)(15.75,0.0131)(16,0.0091)(16.25,0.0118)(16.5,0.0081)(16.75,0.0124)(17,0.0085)(17.25,0.0068)(17.5,0.0097)(17.75,0.012)(18,0.0067)(18.25,0.0085)(18.5,0.0058)(18.75,0.0098)(19,0.0068)(19.25,0.009)(19.5,0.0061)(19.75,0.0094)(20,0.0064)(20.25,0.0052)(20.5,0.0073)(20.75,0.0091)(21,0.005)(21.25,0.0064)(21.5,0.0043)(21.75,0.0074)(22,0.0052)(22.25,0.0038)(22.5,0.0062)(22.75,0.0084)(23,0.004)(23.25,0.0054)(23.5,0.0032)(23.75,0.0067)(24,0.0042)(24.25,0.006)(24.5,0.0036)(24.75,0.0064)(25,0.0039)(25.5,0.0029)(26,0.0045)(26.5,0.0059)(27,0.0028)(27.5,0.0038)(28,0.0022)(28.5,0.0046)(29,0.0029)(29.5,0.0041)(30,0.0024)(31,0.0042)(32,0.0024)(33,0.0028)(34,0.0017)(35,0.0028)(36,0.0017)
(5.125,0.0936)(5.375,0.0977)(5.625,0.0828)(5.875,0.0842)(6.125,0.0658)(6.375,0.0657)(6.625,0.0579)(6.875,0.0575)(7.125,0.0465)(7.375,0.0491)(7.625,0.0488)(7.875,0.0406)(8.125,0.0335)(8.375,0.0435)(8.625,0.0351)(8.875,0.0417)(9.125,0.0285)(9.375,0.0329)(9.625,0.0264)(9.875,0.03)(10.125,0.0222)(10.375,0.0261)(10.625,0.028)(10.875,0.0204)(11.125,0.018)(11.375,0.0236)(11.625,0.0192)(11.875,0.0232)(12.125,0.016)(12.375,0.0188)(12.625,0.0153)(12.875,0.0176)(13.125,0.013)(13.375,0.0154)(13.625,0.0166)(13.875,0.0122)(14.125,0.0098)(14.375,0.0154)(14.625,0.0115)(14.875,0.0158)(15.125,0.0093)(15.375,0.0122)(15.625,0.0092)(15.875,0.0118)(16.125,0.0077)(16.375,0.0105)(16.625,0.0122)(16.875,0.008)(17.125,0.0068)(17.375,0.0109)(17.625,0.0083)(17.875,0.0115)(18.125,0.0068)(18.375,0.0091)(18.625,0.007)(18.875,0.0089)(19.125,0.0059)(19.375,0.008)(19.625,0.0092)(19.875,0.006)(20.125,0.0052)(20.375,0.0082)(20.625,0.0062)(20.875,0.0086)(21.125,0.0051)(21.375,0.0068)(21.625,0.0052)(21.875,0.0067)(22.125,0.0039)(22.375,0.0072)(22.625,0.005)(22.875,0.008)(23.125,0.0039)(23.375,0.0059)(23.625,0.0041)(23.875,0.0059)(24.125,0.0034)(24.375,0.0052)(24.625,0.0062)(24.875,0.0034)(25.25,0.0029)(25.75,0.0053)(26.25,0.0036)(26.75,0.0056)(27.25,0.0027)(27.75,0.0041)(28.25,0.0029)(28.75,0.004)(29.5,0.0023)(30.5,0.0034)(31.5,0.0039)(32.5,0.0021)
(2.8,0.92)(2.65,0.85)(2.65,0.6)(2.6,0.35)(2.6,0.25)(2.6,0.1)(2.6,0.06)(2.55,0.03)(2.55,0.013)(2.5,0.0047)(2.5,0.0022)(2.1,0.0016)
(34,0.0031)(36,0.0029)(38,0.0025)(41,0.0021)(44,0.0019)(47,0.0018)(60,0.0016)(70,0.0016)(88,0.0016)(96,0.0016)(39,0.0014)(42,0.0012)};
\node[font=\inlab, text=cg, anchor=west] at (axis cs:25.4,0.01676) {total alpha};
\node[font=\inlab, text=co, anchor=west] at (axis cs:12.2,8.3e-4) {total beta};
\end{semilogyaxis}

% ---------------- titles ----------------
\node[font=\fontsize{11}{13}\selectfont, anchor=base] at (97pt,339.8pt) {(a)};
\node[font=\fontsize{11}{13}\selectfont, anchor=base] at (348.4pt,339.8pt) {(b)};
\node[font=\fontsize{11}{13}\selectfont, anchor=base] at (98.8pt,159.2pt) {(c)};

% ---------------- caption ----------------
\node[anchor=north west, inner sep=0pt, align=left, font=\fontsize{12.5}{14.9}\selectfont\itshape] at (222.8pt,160pt) {%
\makebox[228.4pt][s]{\textbf{Figure S4.2:}\ \ 2"AP fluorescence decay}\\
\makebox[228.4pt][s]{curves collected at (a) 550nm, (b) 600nm}\\
\makebox[228.4pt][s]{and (c) total range. Wavelength of choice}\\
\makebox[228.4pt][s]{was selected using adequate pass filters}\\
\makebox[228.4pt][s]{with 40nm FWHM positioned in front of}\\
\makebox[228.4pt][s]{detection system. Times of decay deter-}\\
\makebox[228.4pt][s]{mined by the means of fitting a three-}\\
\makebox[228.4pt][s]{component decay curve, presented in Ta-}\\
\makebox[228.4pt][s]{ble 3, suggest the decay to be marginally}\\
slower at higher wavelengths.};
\end{tikzpicture}
\end{document}
